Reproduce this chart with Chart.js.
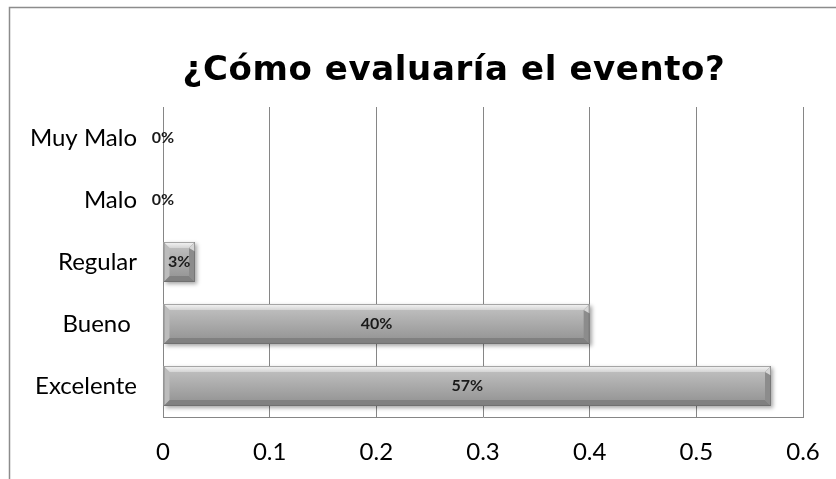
<!DOCTYPE html>
<html>
<head>
<meta charset="utf-8">
<script src="https://cdn.jsdelivr.net/npm/chart.js@4.4.1/dist/chart.umd.min.js"></script>
<style>
    html, body { margin: 0; padding: 0; background: #fff; }
    #wrap { width: 836px; height: 479px; }
</style>
</head>
<body>
<div id="wrap"><canvas id="myBarChart" width="836" height="479"></canvas></div>
<script>
const categories = ['Muy Malo', 'Malo', 'Regular', 'Bueno ', 'Excelente'];
const shares = [0, 0, 0.03, 0.40, 0.57];
const shareLabels = ['0%', '0%', '3%', '40%', '57%'];
const xTicks = [0, 0.1, 0.2, 0.3, 0.4, 0.5, 0.6];
const chartTitle = '¿Cómo evaluaría el evento?';

const labelFont = 'Lato, "Open Sans", sans-serif';

// outer frame of the chart object (only left and top edges are inside the picture) + title
const framePlugin = {
    id: 'frame',
    beforeDraw: (chart) => {
        const ctx = chart.ctx;
        ctx.save();
        ctx.fillStyle = '#fff';
        ctx.fillRect(0, 0, chart.width, chart.height);
        ctx.strokeStyle = '#8c8c8c';
        ctx.lineWidth = 1.5;
        ctx.beginPath();
        ctx.moveTo(9.5, chart.height);
        ctx.lineTo(9.5, 7.5);
        ctx.lineTo(chart.width, 7.5);
        ctx.stroke();

        ctx.fillStyle = '#000';
        ctx.font = 'bold 34px "DejaVu Sans", sans-serif';
        ctx.letterSpacing = '0.6px';
        ctx.textAlign = 'center';
        ctx.textBaseline = 'alphabetic';
        ctx.fillText(chartTitle, 454, 80);
        ctx.restore();
    }
};

// bevelled grey bars + labels in the middle
const bevelPlugin = {
    id: 'bevel',
    afterDatasetsDraw: (chart) => {
        const ctx = chart.ctx;
        const meta = chart.getDatasetMeta(0);
        meta.data.forEach((bar, i) => {
            const {x, y, base, height} = bar.getProps(['x', 'y', 'base', 'height'], true);
            const L = Math.min(x, base), R = Math.max(x, base);
            const T = y - height / 2, B = y + height / 2;
            const w = R - L;
            ctx.save();
            if (w >= 1) {
                ctx.save();
                ctx.shadowColor = 'rgba(0,0,0,0.35)';
                ctx.shadowBlur = 4;
                ctx.shadowOffsetX = 2;
                ctx.shadowOffsetY = 2;
                const g = ctx.createLinearGradient(0, T, 0, B);
                g.addColorStop(0, '#c4c4c4');
                g.addColorStop(0.5, '#aaaaaa');
                g.addColorStop(1, '#909090');
                ctx.fillStyle = g;
                ctx.fillRect(L, T, w, height);
                ctx.restore();

                const b = Math.min(6, w / 3, height / 3);
                const poly = (pts, fill) => {
                    ctx.beginPath();
                    ctx.moveTo(pts[0][0], pts[0][1]);
                    for (let k = 1; k < pts.length; k++) ctx.lineTo(pts[k][0], pts[k][1]);
                    ctx.closePath();
                    ctx.fillStyle = fill;
                    ctx.fill();
                };
                const gt = ctx.createLinearGradient(0, T, 0, T + b);
                gt.addColorStop(0, '#f6f6f6');
                gt.addColorStop(1, '#d4d4d4');
                poly([[L, T], [R, T], [R - b, T + b], [L + b, T + b]], gt);
                poly([[L, B], [R, B], [R - b, B - b], [L + b, B - b]], '#808080');
                poly([[L, T], [L + b, T + b], [L + b, B - b], [L, B]], '#bcbcbc');
                poly([[R, T], [R - b, T + b], [R - b, B - b], [R, B]], '#8c8c8c');
                poly([[R, T], [R - b, T + b], [R, T + b * 1.6]], '#d6d6d6');
                ctx.strokeStyle = 'rgba(100,100,100,0.55)';
                ctx.lineWidth = 1;
                ctx.strokeRect(L + 0.5, T + 0.5, w - 1, height - 1);
            }
            ctx.fillStyle = '#1a1a1a';
            ctx.font = 'bold 16px ' + labelFont;
            ctx.textAlign = 'center';
            ctx.textBaseline = 'middle';
            ctx.fillText(shareLabels[i], (L + R) / 2, y);
            ctx.restore();
        });
    }
};

const bar = document.getElementById('myBarChart');
const myBar = new Chart(bar, {
    type: 'bar',
    data: {
        labels: categories,
        datasets: [{
            data: shares,
            backgroundColor: 'rgba(0,0,0,0)',
            borderWidth: 0,
            categoryPercentage: 1,
            barPercentage: 0.645,
        }]
    },
    options: {
        indexAxis: 'y',
        responsive: false,
        animation: false,
        layout: {
            padding: {left: 0, right: 33, top: 107, bottom: 0}
        },
        plugins: {
            legend: false,
            tooltip: {enabled: false},
            title: {display: false}
        },
        scales: {
            x: {
                min: 0,
                max: 0.6,
                afterBuildTicks: (scale) => {
                    scale.ticks = xTicks.map(v => ({value: v}));
                },
                afterFit: (scale) => {
                    scale.height = 62;
                    scale.paddingLeft = 0;
                    scale.paddingRight = 0;
                },
                ticks: {
                    color: '#000',
                    font: {family: labelFont, size: 24},
                    padding: 21,
                    maxRotation: 0,
                    callback: (v) => String(v),
                },
                grid: {
                    color: '#868686',
                    lineWidth: 1,
                    drawTicks: false,
                },
                border: {color: '#868686', width: 1}
            },
            y: {
                afterFit: (scale) => {
                    scale.width = 163;
                    scale.paddingTop = 0;
                    scale.paddingBottom = 0;
                },
                ticks: {
                    color: '#000',
                    font: {family: labelFont, size: 24},
                    padding: 26,
                },
                grid: {display: false, drawTicks: false},
                border: {color: '#868686', width: 1}
            }
        }
    },
    plugins: [framePlugin, bevelPlugin],
});
</script>
</body>
</html>
